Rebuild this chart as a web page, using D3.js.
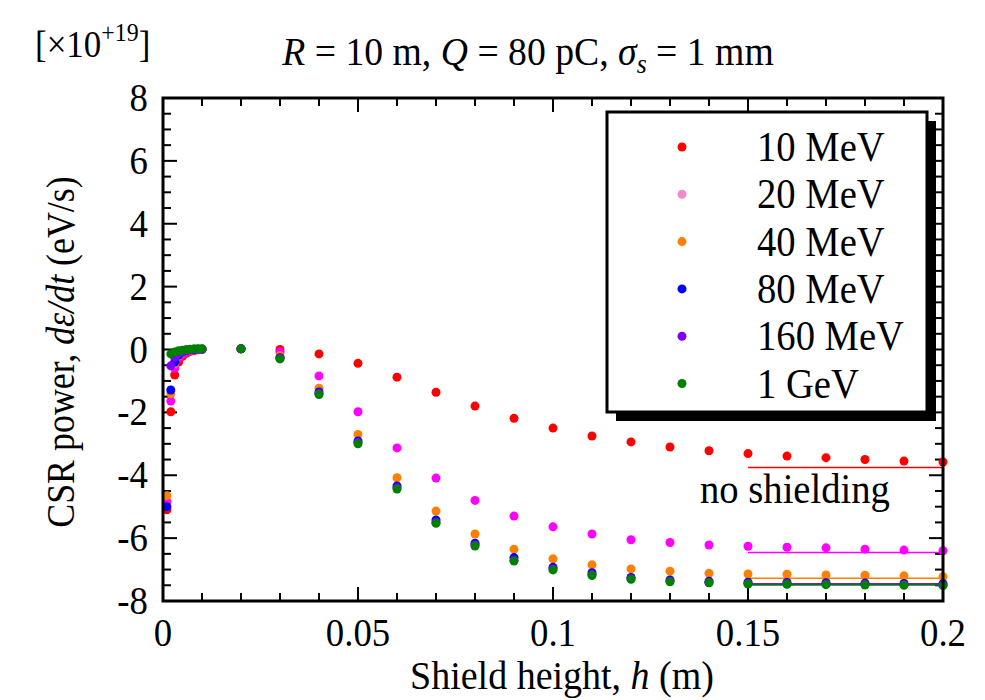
<!DOCTYPE html>
<html><head><meta charset="utf-8">
<script src="https://cdn.jsdelivr.net/npm/d3@7"></script>
<style>body{margin:0;background:#fff}svg{display:block}text{font-family:"Liberation Serif","Times New Roman",serif;fill:#000}</style>
</head><body><svg id="c" width="985" height="700"></svg>
<script>
const hValues = [0.001,0.002,0.003,0.004,0.005,0.006,0.007,0.008,0.009,0.01,
  0.02,0.03,0.04,0.05,0.06,0.07,0.08,0.09,0.10,0.11,0.12,0.13,0.14,0.15,0.16,0.17,0.18,0.19,0.20];
const seriesNames = ["10 MeV","20 MeV","40 MeV","80 MeV","160 MeV","1 GeV"];
const seriesColors = ["#ff0000","#ff00ff","#ff8000","#0000ff","#8000ff","#008000"];
const legendColors = ["#ff0000","#f58ac8","#ff8000","#0000ff","#8000ff","#008000"];
const power10MeV = [-5.1,-1.98,-0.81,-0.4,-0.22,-0.12,-0.06,-0.03,-0.01,0.0,
  0.02,0.0,-0.14,-0.44,-0.88,-1.36,-1.80,-2.19,-2.50,-2.75,-2.94,-3.10,-3.22,-3.31,-3.39,-3.44,-3.50,-3.55,-3.58];
const power20MeV = [-4.84,-1.64,-0.6,-0.28,-0.15,-0.08,-0.04,-0.02,0.0,0.01,
  0.02,-0.08,-0.84,-1.98,-3.13,-4.09,-4.80,-5.30,-5.64,-5.87,-6.05,-6.14,-6.22,-6.26,-6.29,-6.31,-6.35,-6.38,-6.40];
const power40MeV = [-4.65,-1.41,-0.45,-0.2,-0.1,-0.05,-0.02,0.0,0.01,0.01,
  0.02,-0.2,-1.23,-2.70,-4.08,-5.14,-5.87,-6.35,-6.66,-6.85,-6.98,-7.05,-7.12,-7.14,-7.15,-7.17,-7.18,-7.20,-7.23];
const power80MeV = [-5.0,-1.29,-0.4,-0.18,-0.08,-0.04,-0.01,0.0,0.01,0.01,
  0.02,-0.26,-1.35,-2.91,-4.34,-5.42,-6.16,-6.62,-6.93,-7.10,-7.25,-7.33,-7.37,-7.40,-7.41,-7.42,-7.43,-7.44,-7.45];
const power160MeV = [null,-0.52,-0.25,-0.12,-0.06,-0.03,-0.01,0.0,0.01,0.01,
  0.02,-0.28,-1.40,-2.96,-4.40,-5.50,-6.22,-6.70,-6.98,-7.16,-7.29,-7.37,-7.41,-7.44,-7.45,-7.46,-7.47,-7.48,-7.49];
const power1GeV = [null,-0.14,-0.08,-0.04,-0.02,0.0,0.01,0.02,0.02,0.02,
  0.02,-0.30,-1.43,-3.00,-4.44,-5.53,-6.25,-6.73,-7.01,-7.19,-7.31,-7.39,-7.42,-7.46,-7.47,-7.48,-7.49,-7.50,-7.51];
const noShielding = [-3.75,-6.46,-7.28,-7.46,-7.47,-7.49];
const noShieldRange = [0.15,0.20];
const xTickValues = [0,0.05,0.1,0.15,0.2];
const xTickLabels = ["0","0.05","0.1","0.15","0.2"];
const yTickValues = [8,6,4,2,0,-2,-4,-6,-8];
const yTickLabels = ["8","6","4","2","0","-2","-4","-6","-8"];

const allSeries = [power10MeV,power20MeV,power40MeV,power80MeV,power160MeV,power1GeV];
const svg = d3.select("#c");
const L=163, R=943, T=98, B=601;
const x = d3.scaleLinear().domain([0,0.2]).range([L,R]);
const y = d3.scaleLinear().domain([-8,8]).range([B,T]);

function ctext(px, py, size, anchor, sx){
  const gg = svg.append("g").attr("transform",`translate(${px},${py}) scale(${sx||0.92},1)`);
  return gg.append("text").attr("text-anchor",anchor||"start").attr("font-size",size);
}

// ticks (inward) on all four sides
const g = svg.append("g");
const minorX = d3.range(0,0.2001,0.01), minorY = d3.range(-8,8.001,0.5);
minorX.forEach(v=>{
  const major = Math.abs(v/0.05 - Math.round(v/0.05))<1e-6;
  const len = major?14:8;
  g.append("line").attr("x1",x(v)).attr("x2",x(v)).attr("y1",B).attr("y2",B-len).attr("stroke","#000").attr("stroke-width",2);
  g.append("line").attr("x1",x(v)).attr("x2",x(v)).attr("y1",T).attr("y2",T+len).attr("stroke","#000").attr("stroke-width",2);
});
minorY.forEach(v=>{
  const major = Math.abs(v/2 - Math.round(v/2))<1e-6;
  const len = major?14:8;
  g.append("line").attr("y1",y(v)).attr("y2",y(v)).attr("x1",L).attr("x2",L+len).attr("stroke","#000").attr("stroke-width",2);
  g.append("line").attr("y1",y(v)).attr("y2",y(v)).attr("x1",R).attr("x2",R-len).attr("stroke","#000").attr("stroke-width",2);
});

// no-shielding lines
seriesColors.forEach((c,i)=>{
  svg.append("line").attr("x1",x(noShieldRange[0])).attr("x2",x(noShieldRange[1]))
    .attr("y1",y(noShielding[i])).attr("y2",y(noShielding[i])).attr("stroke",c).attr("stroke-width",1.5);
});

// points
allSeries.forEach((s,i)=>{
  svg.append("g").selectAll("circle").data(hValues.map((h,j)=>[h,s[j]]).filter(d=>d[1]!==null))
    .join("circle").attr("cx",d=>x(d[0])).attr("cy",d=>y(d[1])).attr("r",4.5).attr("fill",seriesColors[i]);
});

// frame
svg.append("rect").attr("x",L).attr("y",T).attr("width",R-L).attr("height",B-T)
  .attr("fill","none").attr("stroke","#000").attr("stroke-width",3);

// tick labels
xTickValues.forEach((v,i)=>{
  ctext(x(v),646,40,"middle").text(xTickLabels[i]);
});
yTickValues.forEach((v,i)=>{
  ctext(148,y(v)+13,40,"end").text(yTickLabels[i]);
});

// legend
const lg = svg.append("g");
lg.append("rect").attr("x",616).attr("y",121).attr("width",320).attr("height",300).attr("fill","#000");
lg.append("rect").attr("x",607).attr("y",112).attr("width",320).attr("height",300).attr("fill","#fff").attr("stroke","#000").attr("stroke-width",3);
seriesNames.forEach((n,i)=>{
  const yy = 147 + i*47.3;
  lg.append("circle").attr("cx",682).attr("cy",yy).attr("r",4.5).attr("fill",legendColors[i]);
  ctext(757,yy+14,42,"start",0.92).text(n);
});

// no shielding label
ctext(700,503,42,"start",0.92).text("no shielding");

// title
const t = ctext(528,65,41,"middle",0.92);
t.append("tspan").attr("font-style","italic").text("R");
t.append("tspan").text(" = 10 m, ");
t.append("tspan").attr("font-style","italic").text("Q");
t.append("tspan").text(" = 80 pC, ");
t.append("tspan").attr("font-style","italic").text("σ");
t.append("tspan").attr("font-style","italic").attr("font-size",28).attr("dy",8).text("s");
t.append("tspan").attr("dy",-8).text(" = 1 mm");

// exponent label
const e = ctext(35,57,38,"start",0.92);
e.append("tspan").text("[×10");
e.append("tspan").attr("font-size",26).attr("dy",-16).text("+19");
e.append("tspan").attr("dy",16).text("]");

// axis titles
const xl = ctext(562,689,40,"middle",0.95);
xl.append("tspan").text("Shield height, ");
xl.append("tspan").attr("font-style","italic").text("h");
xl.append("tspan").text(" (m)");
const ylg = svg.append("g").attr("transform","translate(74,352) rotate(-90) scale(0.92,1)");
const yl = ylg.append("text").attr("text-anchor","middle").attr("font-size",39);
yl.append("tspan").text("CSR power, ");
yl.append("tspan").attr("font-style","italic").text("dε/dt");
yl.append("tspan").text(" (eV/s)");
</script></body></html>
